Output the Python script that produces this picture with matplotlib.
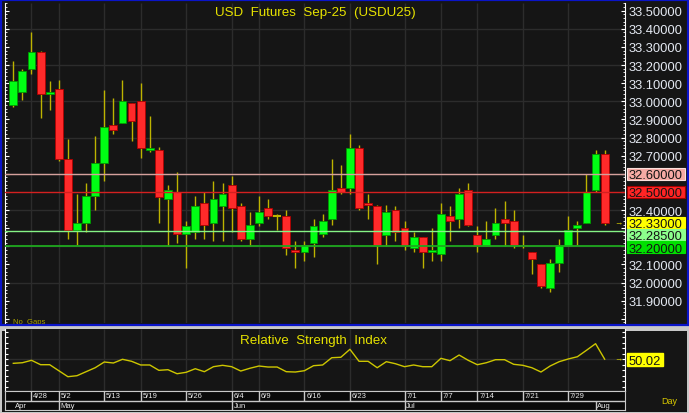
import matplotlib
matplotlib.use('Agg')
import matplotlib.pyplot as plt
from matplotlib.patches import Rectangle
from matplotlib.ticker import MultipleLocator, FuncFormatter
from matplotlib.transforms import offset_copy
import numpy as np

# daily candles, USD futures Sep-25
opens = [32.98, 33.05, 33.18, 33.27, 33.04, 33.07, 32.68, 32.29, 32.33, 32.48,
         32.66, 32.87, 32.88, 32.99, 33.00, 32.73, 32.73, 32.46, 32.50, 32.27,
         32.28, 32.44, 32.33, 32.42, 32.54, 32.42, 32.24, 32.33, 32.41, 32.37,
         32.37, 32.18, 32.17, 32.22, 32.27, 32.35, 32.52, 32.52, 32.74, 32.44,
         32.42, 32.26, 32.40, 32.30, 32.19, 32.25, 32.17, 32.16, 32.37, 32.35,
         32.51, 32.26, 32.20, 32.26, 32.35, 32.34, 32.21, 32.17, 32.10, 31.97,
         32.11, 32.20, 32.30, 32.33, 32.51, 32.71]
highs = [33.22, 33.18, 33.38, 33.28, 33.11, 33.12, 32.79, 32.49, 32.55, 32.81,
         33.06, 33.02, 33.12, 32.99, 33.10, 32.92, 32.75, 32.54, 32.61, 32.34,
         32.48, 32.50, 32.56, 32.55, 32.59, 32.44, 32.39, 32.48, 32.46, 32.38,
         32.40, 32.23, 32.23, 32.35, 32.38, 32.68, 32.65, 32.82, 32.76, 32.49,
         32.43, 32.43, 32.42, 32.34, 32.28, 32.25, 32.30, 32.44, 32.42, 32.52,
         32.55, 32.31, 32.34, 32.41, 32.45, 32.40, 32.26, 32.17, 32.10, 32.13,
         32.24, 32.37, 32.34, 32.60, 32.73, 32.73]
lows = [32.97, 33.01, 33.15, 32.91, 32.95, 32.67, 32.24, 32.21, 32.28, 32.40,
        32.56, 32.82, 32.88, 32.78, 32.69, 32.72, 32.33, 32.20, 32.22, 32.08,
        32.24, 32.24, 32.23, 32.23, 32.28, 32.23, 32.20, 32.31, 32.35, 32.29,
        32.15, 32.08, 32.12, 32.14, 32.25, 32.32, 32.49, 32.49, 32.40, 32.35,
        32.10, 32.20, 32.23, 32.18, 32.17, 32.08, 32.12, 32.12, 32.23, 32.30,
        32.31, 32.17, 32.20, 32.24, 32.20, 32.19, 32.19, 32.05, 31.97, 31.95,
        32.06, 32.20, 32.21, 32.33, 32.50, 32.32]
closes = [33.11, 33.17, 33.27, 33.04, 33.05, 32.68, 32.29, 32.33, 32.48, 32.66,
          32.86, 32.84, 33.00, 32.89, 32.74, 32.74, 32.47, 32.51, 32.27, 32.31,
          32.42, 32.32, 32.46, 32.49, 32.41, 32.24, 32.32, 32.39, 32.37, 32.37,
          32.19, 32.17, 32.21, 32.31, 32.34, 32.51, 32.50, 32.74, 32.41, 32.43,
          32.21, 32.39, 32.28, 32.20, 32.25, 32.17, 32.18, 32.38, 32.34, 32.49,
          32.32, 32.20, 32.24, 32.33, 32.33, 32.21, 32.20, 32.13, 31.98, 32.11,
          32.21, 32.29, 32.32, 32.50, 32.71, 32.33]
rsi = [42.5, 43.6, 48.0, 40.0, 40.0, 29.1, 18.2, 20.0, 27.3, 34.5,
       44.9, 43.1, 49.8, 46.2, 39.5, 39.5, 29.8, 30.9, 23.6, 26.2,
       32.7, 27.3, 36.4, 38.9, 36.4, 28.5, 33.5, 37.6, 35.8, 35.8,
       27.3, 26.7, 29.1, 38.2, 39.5, 52.7, 53.5, 68.0, 46.2, 46.2,
       34.5, 45.5, 41.8, 36.4, 39.5, 36.4, 36.4, 51.6, 47.3, 57.6,
       48.0, 40.0, 43.6, 49.1, 49.1, 40.7, 38.9, 34.5, 26.7, 37.6,
       45.5, 50.4, 54.5, 66.2, 78.2, 50.02]

date_ticks = [2, 5, 10, 14, 19, 24, 27, 32, 37, 43, 47, 51, 56, 61]
date_labels = ['4/28', '5/2', '5/13', '5/19', '5/26', '6/4', '6/9', '6/16',
               '6/23', '7/1', '7/7', '7/14', '7/21', '7/29']
month_ticks = [0, 5, 24, 43, 64]
month_labels = ['Apr', 'May', 'Jun', 'Jul', 'Aug']

levels = [32.60, 32.50, 32.285, 32.20]
level_line_colors = ['#d6a09c', '#d42020', '#86f486', '#1ea81e']
level_box_colors = ['#f6aaa4', '#ff2424', '#8cff8c', '#00e000']
last_price = 32.33
last_rsi = 50.02

W, H = 689, 414


def rect(x0, y0, x1, y1):
    return [x0 / W, 1 - y1 / H, (x1 - x0) / W, (y1 - y0) / H]


plt.rcParams['font.family'] = ['Liberation Sans', 'DejaVu Sans']
BG = '#151515'
GRID = '#2c2c2c'
WICK = '#bdb300'
TXT = '#e4e9f2'

fig = plt.figure(figsize=(W / 100, H / 100), dpi=100, facecolor=BG)

# frames
fig.patches.append(Rectangle((0, 0), 1, (H - 326.5) / H, transform=fig.transFigure,
                             fc='#c8c8c8', ec='none', zorder=-2))
fig.patches.append(Rectangle((2 / W, 1.5 / H), (W - 4) / W, (H - 330 - 3.5) / H,
                             transform=fig.transFigure, fc=BG, ec='none', zorder=-1))
fig.patches.append(Rectangle((1 / W, 1 - 325.5 / H), (W - 2.5) / W, 324.5 / H,
                             transform=fig.transFigure, fill=False, ec='#0a14c8',
                             lw=1.6, zorder=10))

L, R = 5, 624.5
x0_px, step_px = 13.3, 9.098
xlim = ((L - x0_px) / step_px, (R - x0_px) / step_px)
x = np.arange(len(opens))

# ---------------- price panel ----------------
ax = fig.add_axes(rect(L, 3.5, R, 324), facecolor=BG)
ax.set_xlim(*xlim)
ax.set_ylim(33.5645 - 324 / 181.25, 33.5645 - 3.5 / 181.25)

for g in np.arange(32.0, 33.5, 0.2):
    ax.axhline(g, color=GRID, lw=1, zorder=0)
ax.vlines(date_ticks, 0, 1, transform=ax.get_xaxis_transform(), color=GRID, lw=1, zorder=0)

o = np.array(opens)
c = np.array(closes)
up = c > o
ax.vlines(x, lows, highs, color=WICK, lw=1, zorder=2)
body = np.maximum(np.abs(c - o), 0.008)
ax.bar(x[up], body[up], bottom=o[up], width=0.86, color='#00ff14',
       edgecolor='#009a00', linewidth=0.6, zorder=3)
dn = c < o
ax.bar(x[dn], body[dn], bottom=c[dn], width=0.86, color='#ff2a2a',
       edgecolor='#b00000', linewidth=0.6, zorder=3)
eq = c == o
ax.hlines(o[eq], x[eq] - 0.43, x[eq] + 0.43, color=WICK, lw=1.5, zorder=3)

for lv, col in zip(levels, level_line_colors):
    ax.axhline(lv, color=col, lw=1.3 if lv == 32.20 else 1.0, zorder=4)

hidden = [31.8, 32.2, 32.3, 32.5, 32.6]
ax.yaxis.set_major_locator(MultipleLocator(0.1))
ax.yaxis.set_minor_locator(MultipleLocator(0.02))
ax.yaxis.set_major_formatter(FuncFormatter(
    lambda v, p: '' if round(v, 2) in hidden else f'{v:.5f}'))
ax.tick_params(axis='y', which='both', direction='in', left=True, right=True,
               labelleft=False, labelright=True, color='white')
ax.tick_params(axis='y', which='major', length=3, labelsize=9.3,
               labelcolor=TXT, pad=3)
ax.tick_params(axis='y', which='minor', length=1.6)
ax.set_xticks([])
for s in ['top', 'bottom']:
    ax.spines[s].set_visible(False)
for s in ['left', 'right']:
    ax.spines[s].set_color('white')

# value boxes on the right axis
box_h = 12.2 / 181.25
trans = ax.get_yaxis_transform()
bx0 = (627.2 - L) / (R - L)
bw = 57.5 / (R - L)
marks = [(32.60, level_box_colors[0], '#fbe0dc'), (32.50, level_box_colors[1], '#a00000'),
         (last_price, '#ffff00', '#ffff00'), (32.285, level_box_colors[2], '#8cff8c'),
         (32.20, level_box_colors[3], '#00e000')]
prev = None
for val, fc, ec in marks:
    yc = val if prev is None or val < prev - box_h else prev - box_h
    if val in (32.60, 32.50):
        yc = val
    ax.add_patch(Rectangle((bx0, yc - box_h * 0.47), bw, box_h * 0.94, transform=trans,
                           fc=fc, ec=ec, lw=0.8, clip_on=False, zorder=5))
    ax.text(bx0 + 1.6 / (R - L), yc, f'{val:.5f}', transform=trans, ha='left',
            va='center_baseline', fontsize=9.3, color='#141414', clip_on=False, zorder=6)
    prev = yc

fig.text(618 / W, 1 - 224 / H, '→', fontsize=6, color='#e8e000', ha='center', va='center')
fig.text(315 / W, 1 - 15.7 / H, 'USD  Futures  Sep-25  (USDU25)', ha='center',
         va='baseline', fontsize=9.6, color='#e6e200')
fig.text(13 / W, 1 - 324.5 / H, 'No  Gaps', fontsize=5.5, color='#a8a000')

# ---------------- RSI panel ----------------
ax2 = fig.add_axes(rect(L, 330, R, 392), facecolor=BG)
ax2.set_xlim(*xlim)
ax2.set_ylim(-7.8, 104.9)
ax2.axhline(50, color=GRID, lw=1, zorder=0)
ax2.vlines(date_ticks, 0, 1, transform=ax2.get_xaxis_transform(), color=GRID, lw=1, zorder=0)
ax2.plot(x, rsi, color='#cdc600', lw=1, zorder=3)
ax2.yaxis.set_major_locator(MultipleLocator(10))
ax2.set_yticklabels([])
ax2.tick_params(axis='y', direction='in', left=True, right=True, length=2.2, color='white')
ax2.set_xticks([])
for s in ['left', 'right']:
    ax2.spines[s].set_color('white')
ax2.spines['bottom'].set_color('#d0d0d0')
ax2.spines['top'].set_visible(False)
fig.text(313.5 / W, 1 - 344 / H, 'Relative  Strength  Index', ha='center',
         va='baseline', fontsize=9.6, color='#e6e200')
t2 = ax2.get_yaxis_transform()
rb0 = (627.3 - L) / (R - L)
ax2.add_patch(Rectangle((rb0, last_rsi - 11.5), 35.4 / (R - L), 23, transform=t2,
                        fc='#ffff00', ec='#ffff00', clip_on=False, zorder=5))
ax2.text(rb0 + 1.4 / (R - L), last_rsi, f'{last_rsi:.2f}', transform=t2, ha='left',
         va='center_baseline', fontsize=9.3, color='#141414', clip_on=False, zorder=6)
fig.text(618 / W, 1 - 360 / H, '→', fontsize=6, color='#e8e000', ha='center', va='center')

# ---------------- date rows ----------------
ax3 = fig.add_axes(rect(L, 392, R, 411), facecolor='#0a0a0a')
ax3.set_xlim(*xlim)
ax3.set_ylim(0, 2)
ax3.set_xticks([])
ax3.set_yticks([])
for s in ax3.spines.values():
    s.set_color('#c8c8c8')
ax3.axhline(1, color='#c8c8c8', lw=1)
ax3.vlines(date_ticks, 1, 2, color='#c8c8c8', lw=1)
ax3.vlines(month_ticks[1:], 0, 1, color='#c8c8c8', lw=1)
tt = offset_copy(ax3.transData, fig=fig, x=1.8, y=0, units='dots')
for t, lab in zip(date_ticks, date_labels):
    ax3.text(t, 1.12, lab, transform=tt, fontsize=5.5, color='#e8e8e8', va='bottom', ha='left')
for t, lab in zip(month_ticks, month_labels):
    ax3.text(t, 0.12, lab, transform=tt, fontsize=5.5, color='#e8e8e8', va='bottom', ha='left')

fig.text(661 / W, 1 - 404 / H, 'Day', fontsize=6.5, color='#d8c800', va='baseline')

fig.savefig('out.png', dpi=100, facecolor=fig.get_facecolor())
